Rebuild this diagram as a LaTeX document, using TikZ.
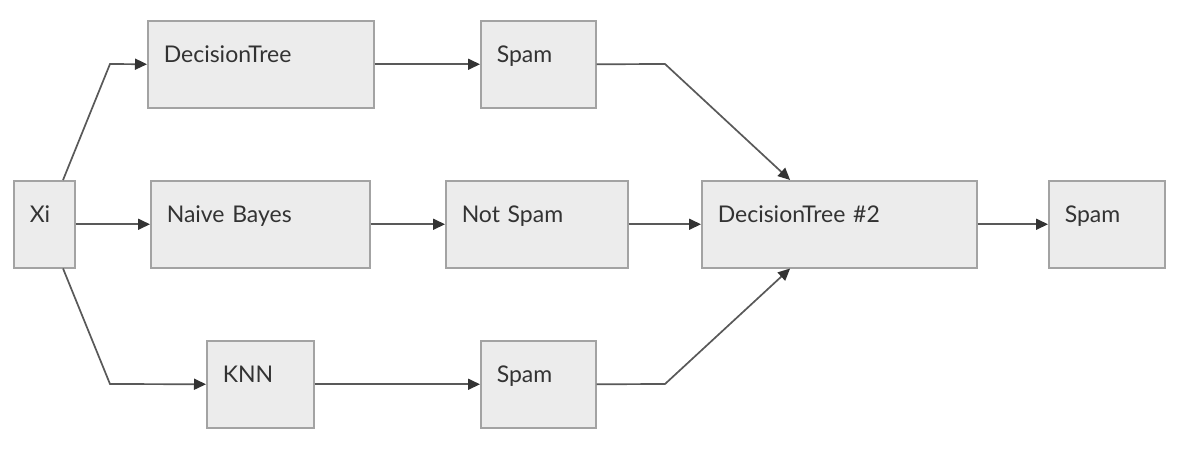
\documentclass[tikz,border=0pt]{standalone}
\usepackage{fontspec}
\setmainfont{Lato}
\usetikzlibrary{arrows.meta}
\definecolor{boxfill}{HTML}{ECECEC}
\definecolor{boxline}{HTML}{A3A3A3}
\definecolor{edgeline}{HTML}{595959}
\definecolor{textcol}{HTML}{333333}
\begin{document}
\begin{tikzpicture}[x=1pt, y=-1pt, box/.style={rectangle, draw=boxline, line width=1.5pt, fill=boxfill, anchor=north west, text width=#1, minimum height=87pt, inner xsep=16pt, inner ysep=0pt, text height=17pt, text depth=21pt, align=left, text=textcol, font=\fontsize{23}{27}\selectfont}, flow/.style={draw=edgeline, line width=1.7pt, -{Triangle[length=12pt, width=11pt, color=textcol]}}]
      \path[fill=white, use as bounding box] (0,0) rectangle (1177,451);

      \node[box=29pt] (xi) at (13, 180) {Xi};
      \node[box=194pt] (tree) at (147, 20) {DecisionTree};
      \node[box=187pt] (bayes) at (150, 180) {Naive Bayes};
      \node[box=75pt] (knn) at (206, 340) {KNN};
      \node[box=83pt] (spamA) at (480, 20) {Spam};
      \node[box=150pt] (notspam) at (445, 180) {Not Spam};
      \node[box=83pt] (spamB) at (480, 340) {Spam};
      \node[box=243pt] (tree2) at (701, 180) {DecisionTree \#2};
      \node[box=84pt] (result) at (1048, 180) {Spam};

      \draw[flow] (xi.67) -- (110, 64) -- (tree.west);
      \draw[flow] (xi.east) -- (bayes.west);
      \draw[flow] (xi.-67) -- (110, 384) -- (knn.west);

      \draw[flow] (tree.east) -- (spamA.west);
      \draw[flow] (bayes.east) -- (notspam.west);
      \draw[flow] (knn.east) -- (spamB.west);

      \draw[flow] (spamA.east) -- (665, 64) -- (tree2.138);
      \draw[flow] (notspam.east) -- (tree2.west);
      \draw[flow] (spamB.east) -- (665, 384) -- (tree2.-138);
      \draw[flow] (tree2.east) -- (result.west);
    \end{tikzpicture}
\end{document}
